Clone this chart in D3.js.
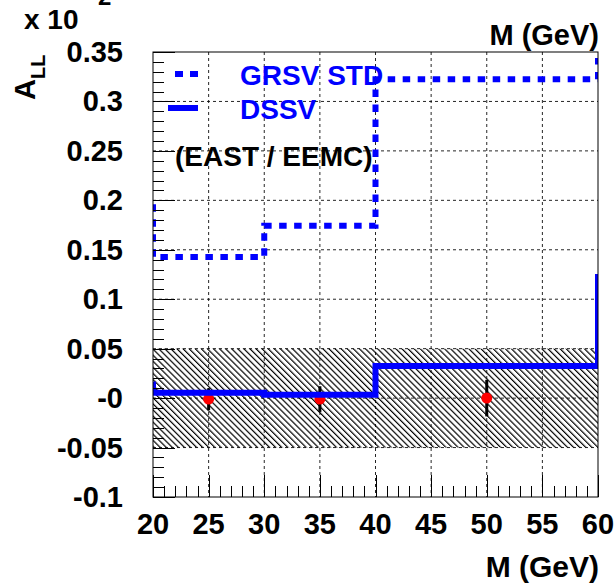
<!DOCTYPE html>
<meta charset="utf-8">
<script src="https://d3js.org/d3.v7.min.js"></script>
<style>
    body { margin: 0; background: #fff; }
    text { font-family: 'Liberation Sans', Arial, Helvetica, sans-serif; font-weight: bold; }
    .grid { stroke: #000; stroke-width: 1; stroke-dasharray: 3,3; opacity: 0.85; }
</style>
<div id="chart"></div>
<script>
    // bin edges of the histograms (GeV)
    let binEdges = [20, 30, 40, 60];
    // GRSV STD prediction: bins + value just outside left/right of the range
    let grsvValues = [0.1428, 0.1744, 0.3225];
    let grsvOutside = [0.196, 0.344];
    // DSSV prediction
    let dssvValues = [0.0055, 0.0035, 0.0324];
    let dssvOutside = [0.0167, 0.1256];
    // measured points
    let pointMass = [25, 35, 50];
    let pointAll = [-0.001, -0.001, 0.0];
    let pointErr = [0.011, 0.013, 0.0185];
    // systematic band
    let bandRange = [-0.05, 0.05];
    // axis ticks
    let xTicks = [20, 25, 30, 35, 40, 45, 50, 55, 60];
    let yTicks = [-0.1, -0.05, 0, 0.05, 0.1, 0.15, 0.2, 0.25, 0.3, 0.35];
    let yTickLabels = ["-0.1", "-0.05", "-0", "0.05", "0.1", "0.15", "0.2", "0.25", "0.3", "0.35"];

    let margin = {top: 52, left: 153},
        width = 445,
        height = 445;

    let svg = d3.select("#chart").append("svg")
        .attr("width", 616)
        .attr("height", 585);

    let defs = svg.append("defs");
    defs.append("clipPath").attr("id", "frame")
        .append("rect").attr("x", 0).attr("y", 0).attr("width", width).attr("height", height);
    let hatch = defs.append("pattern")
        .attr("id", "hatch")
        .attr("patternUnits", "userSpaceOnUse")
        .attr("width", 4.3).attr("height", 4.3)
        .attr("patternTransform", "rotate(-45)");
    hatch.append("line")
        .attr("x1", 0.6).attr("y1", 0).attr("x2", 0.6).attr("y2", 4.3)
        .attr("stroke", "#000").attr("stroke-width", 1.2);

    let g = svg.append("g").attr("transform", "translate(" + margin.left + "," + margin.top + ")");

    let x = d3.scaleLinear().domain([20, 60]).range([0, width]);
    let y = d3.scaleLinear().domain([-0.1, 0.35]).range([height, 0]);

    // hatched band
    g.append("rect")
        .attr("x", x(20)).attr("width", x(60) - x(20))
        .attr("y", y(bandRange[1])).attr("height", y(bandRange[0]) - y(bandRange[1]))
        .attr("fill", "url(#hatch)");

    // grid
    g.selectAll(".gx").data(xTicks.slice(1, -1)).enter().append("line")
        .attr("class", "grid")
        .attr("x1", d => x(d)).attr("x2", d => x(d))
        .attr("y1", 0).attr("y2", height);
    g.selectAll(".gy").data(yTicks.slice(1, -1)).enter().append("line")
        .attr("class", "grid")
        .attr("x1", 0).attr("x2", width)
        .attr("y1", d => y(d)).attr("y2", d => y(d));

    // points with error bars
    g.selectAll(".err").data(pointMass).enter().append("line")
        .attr("x1", d => x(d)).attr("x2", d => x(d))
        .attr("y1", (d, i) => y(pointAll[i] + pointErr[i]))
        .attr("y2", (d, i) => y(pointAll[i] - pointErr[i]))
        .attr("stroke", "#000").attr("stroke-width", 3);
    g.selectAll(".pt").data(pointMass).enter().append("circle")
        .attr("cx", d => x(d)).attr("cy", (d, i) => y(pointAll[i]))
        .attr("r", 5.5).attr("fill", "#ff0000");

    // step histograms
    function stepPoints(values, outside) {
        let pts = [[binEdges[0], outside[0]]];
        for (let i = 0; i < values.length; i++) {
            pts.push([binEdges[i], values[i]]);
            pts.push([binEdges[i + 1], values[i]]);
        }
        pts.push([binEdges[binEdges.length - 1], outside[1]]);
        return pts;
    }
    let line = d3.line().x(d => x(d[0])).y(d => y(d[1]));

    let plot = g.append("g").attr("clip-path", "url(#frame)");
    plot.append("path")
        .attr("d", line(stepPoints(dssvValues, dssvOutside)))
        .attr("fill", "none").attr("stroke", "#0000ff").attr("stroke-width", 6);
    plot.append("path")
        .attr("d", line(stepPoints(grsvValues, grsvOutside)))
        .attr("fill", "none").attr("stroke", "#0000ff").attr("stroke-width", 6)
        .attr("stroke-dasharray", "7.5,7.5");

    // frame
    g.append("rect").attr("width", width).attr("height", height)
        .attr("fill", "none").attr("stroke", "#000").attr("stroke-width", 1);

    // ticks (inside, left and bottom)
    let yMinor = d3.range(-0.1, 0.3501, 0.01);
    g.selectAll(".yt").data(yMinor).enter().append("line")
        .attr("x1", 0)
        .attr("x2", (d, i) => i % 5 === 0 ? 22 : 11)
        .attr("y1", d => Math.round(y(d)) + 0.5).attr("y2", d => Math.round(y(d)) + 0.5)
        .attr("stroke", "#000");
    let xMinor = d3.range(20, 60.01, 1);
    g.selectAll(".xt").data(xMinor).enter().append("line")
        .attr("x1", d => Math.round(x(d)) + 0.5).attr("x2", d => Math.round(x(d)) + 0.5)
        .attr("y1", height)
        .attr("y2", (d, i) => height - (i % 5 === 0 ? 22 : 11))
        .attr("stroke", "#000");

    // tick labels
    g.selectAll(".yl").data(yTicks).enter().append("text")
        .attr("x", -30).attr("y", d => y(d) + 10)
        .attr("text-anchor", "end").attr("font-size", 29)
        .text((d, i) => yTickLabels[i]);
    g.selectAll(".xl").data(xTicks).enter().append("text")
        .attr("x", d => x(d)).attr("y", height + 37)
        .attr("text-anchor", "middle").attr("font-size", 29)
        .text(d => d);

    // axis titles
    svg.append("text").attr("x", 599).attr("y", 577)
        .attr("text-anchor", "end").attr("font-size", 30).text("M (GeV)");
    svg.append("text").attr("x", 599).attr("y", 45)
        .attr("text-anchor", "end").attr("font-size", 29).text("M (GeV)");
    svg.append("text").attr("x", 24).attr("y", 29)
        .attr("font-size", 28).text("x 10");
    svg.append("text").attr("x", 98).attr("y", 5)
        .attr("font-size", 24).text("2");
    let yt = svg.append("text")
        .attr("transform", "translate(35,100) rotate(-90)")
        .attr("font-size", 29);
    yt.append("tspan").text("A");
    yt.append("tspan").attr("dy", 10).attr("font-size", 20).text("LL");

    // legend
    let legY1 = 74, legY2 = 108;
    svg.append("line").attr("x1", 175).attr("x2", 198).attr("y1", legY1).attr("y2", legY1)
        .attr("stroke", "#0000ff").attr("stroke-width", 6).attr("stroke-dasharray", "8,7");
    svg.append("line").attr("x1", 168).attr("x2", 198).attr("y1", legY2).attr("y2", legY2)
        .attr("stroke", "#0000ff").attr("stroke-width", 6);
    svg.append("text").attr("x", 240).attr("y", 85)
        .attr("font-size", 28).attr("fill", "#0000ff").text("GRSV STD");
    svg.append("text").attr("x", 240).attr("y", 119)
        .attr("font-size", 28).attr("fill", "#0000ff").text("DSSV");
    svg.append("text").attr("x", 175).attr("y", 166)
        .attr("font-size", 28).attr("fill", "#000").text("(EAST / EEMC)");
</script>
